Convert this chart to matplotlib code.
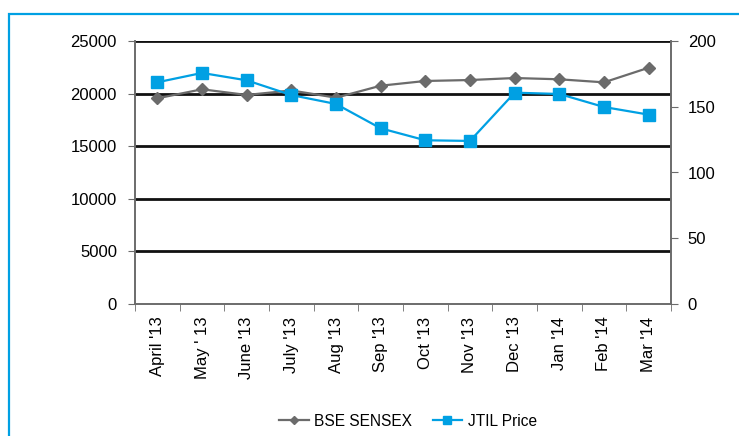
import matplotlib.pyplot as plt
import matplotlib.patches as mpatches
import numpy as np

months = ["April '13", "May ' 13", "June '13", "July '13", "Aug '13", "Sep '13",
          "Oct '13", "Nov '13", "Dec '13", "Jan '14", "Feb '14", "Mar '14"]
sensex = [19550, 20410, 19870, 20300, 19610, 20750, 21200, 21290, 21480, 21360, 21070, 22460]
jtil = [168.6, 175.7, 170.1, 158.9, 152.1, 133.6, 124.5, 124.0, 160.7, 159.7, 149.8, 144.0]

plt.rcParams['font.family'] = ['Liberation Sans', 'DejaVu Sans']
grey = "#6b6b6b"
blue = "#00a0e3"
fs = 12

fig = plt.figure(figsize=(7.39, 4.36), dpi=100)
# blue frame round the chart
fig.patches.append(mpatches.Rectangle((9 / 739, -0.05), 1.0, 1 - 14 / 436 + 0.05,
                                      transform=fig.transFigure, fill=False,
                                      edgecolor=blue, linewidth=1.6))

ax = fig.add_axes([135 / 739, 1 - 304 / 436, 536 / 739, 263 / 436])
ax2 = ax.twinx()

x = np.arange(len(months))
l1, = ax.plot(x, sensex, color=grey, marker="D", markersize=6.5, linewidth=1.6,
              label="BSE SENSEX", zorder=3)
l2, = ax2.plot(x, jtil, color=blue, marker="s", markersize=9, linewidth=1.6,
               label="JTIL Price", zorder=3)

ax.set_xlim(-0.5, len(months) - 0.5)
ax.set_ylim(0, 25000)
ax.set_yticks(np.arange(0, 25001, 5000))
ax2.set_ylim(0, 200)
ax2.set_yticks(np.arange(0, 201, 50))

for v in np.arange(5000, 25001, 5000):
    ax.axhline(v, color="#111111", linewidth=2, zorder=1)

ax.set_xticks(x)
ax.set_xticklabels(months, rotation=90, fontsize=fs)
ax.set_xticks(np.arange(-0.5, len(months), 1), minor=True)
ax.tick_params(axis="x", which="major", length=0, pad=9)
ax.tick_params(axis="x", which="minor", length=5, color=grey)
ax.tick_params(axis="y", labelsize=fs, length=5, color=grey, pad=8)
ax2.tick_params(axis="y", labelsize=fs, length=5, color=grey, pad=7)

for a in (ax, ax2):
    for s in a.spines.values():
        s.set_color(grey)
        s.set_linewidth(1.2)
    a.spines["top"].set_visible(False)

fig.legend([l1, l2], ["BSE SENSEX", "JTIL Price"], loc="center",
           bbox_to_anchor=(408 / 739, 1 - 421 / 436), ncol=2, frameon=False,
           fontsize=11.2, handlelength=1.9, columnspacing=1.3, handletextpad=0.35,
           markerscale=0.6)

fig.savefig("out.png", dpi=100)
